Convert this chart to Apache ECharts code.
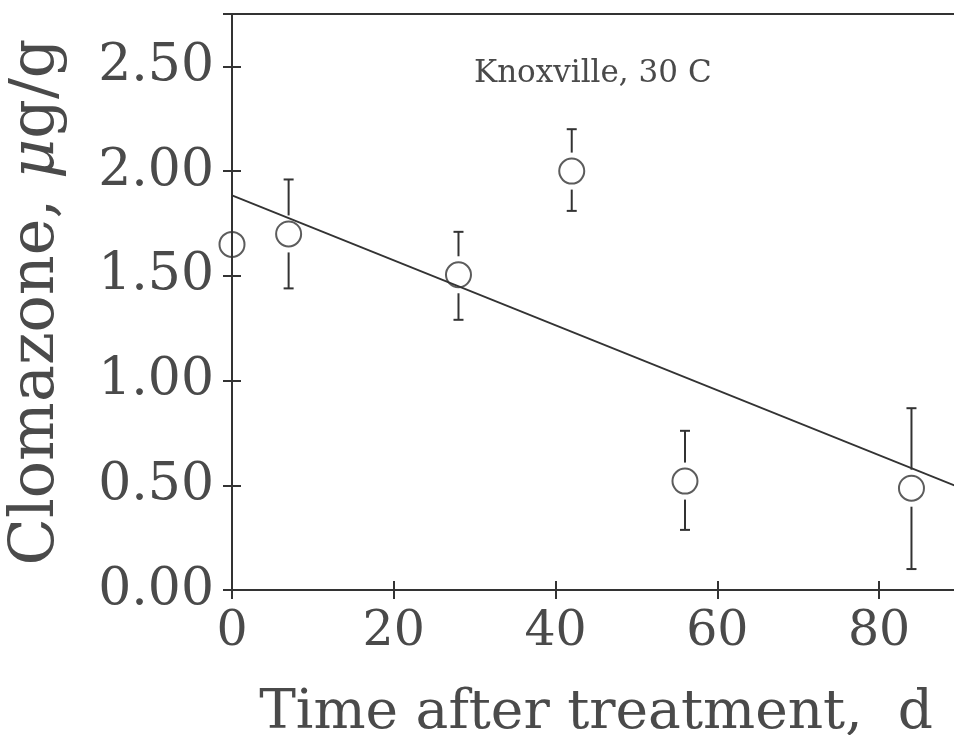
<!DOCTYPE html>
<html>
<head>
<meta charset="utf-8">
<script src="https://cdn.jsdelivr.net/npm/echarts@6/dist/echarts.min.js"></script>
<style>
html,body{margin:0;padding:0;background:#fff;}
#chart{width:954px;height:735px;}
</style>
</head>
<body>
<div id="chart"></div>
<script>
// Data
const days = [0, 7, 28, 42, 56, 84];
const meanValues = [1.65, 1.70, 1.505, 2.00, 0.52, 0.486];
const upperValues = [1.65, 1.96, 1.71, 2.20, 0.76, 0.868];
const lowerValues = [1.65, 1.44, 1.29, 1.81, 0.287, 0.10];
const fitX = [0, 90];
const fitY = [1.884, 0.489];
const xTicks = [0, 20, 40, 60, 80];
const yTicks = [0.00, 0.50, 1.00, 1.50, 2.00, 2.50];
const annotation = 'Knoxville, 30 C';

const FONT = 'DejaVu Serif';
const INK = '#333';
const TXT = '#4a4a4a';

const points = days.map((d, i) => [d, meanValues[i]]);
const errData = days.map((d, i) => [d, meanValues[i], lowerValues[i], upperValues[i]]);
const fitData = fitX.map((x, i) => [x, fitY[i]]);

const chart = echarts.init(document.getElementById('chart'));
const R = 12.5, GAP = 6, CAP = 5;

const baseX = {
  type: 'value', min: 0, max: 90, interval: 20,
  splitLine: {show: false}
};
const baseY = {
  type: 'value', min: 0, max: 2.75, interval: 0.5,
  splitLine: {show: false}
};

chart.setOption({
  backgroundColor: '#fff',
  animation: false,
  grid: {left: 232, top: 14, right: -6, bottom: 145, show: true,
         containLabel: false, outerBoundsMode: 'none',
         borderColor: INK, borderWidth: 2, backgroundColor: 'transparent'},
  xAxis: [
    Object.assign({}, baseX, {
      position: 'bottom',
      name: 'Time after treatment,  d',
      nameLocation: 'middle', nameGap: 96,
      nameTextStyle: {fontFamily: FONT, fontSize: 55, color: TXT},
      axisLine: {show: true, lineStyle: {color: INK, width: 2}},
      axisTick: {show: true, inside: false, length: 9, lineStyle: {color: INK, width: 2}},
      axisLabel: {fontFamily: FONT, fontSize: 49, color: TXT, margin: 18,
                  formatter: v => xTicks.includes(v) ? String(v) : ''}
    }),
    Object.assign({}, baseX, {
      position: 'bottom',
      axisLine: {show: false},
      axisTick: {show: true, inside: true, length: 9, lineStyle: {color: INK, width: 2}},
      axisLabel: {show: false}
    })
  ],
  yAxis: [
    Object.assign({}, baseY, {
      position: 'left',
      name: '{a|Clomazone, }{b|μ}{a|g/g}',
      nameLocation: 'middle', nameGap: 164, nameRotate: 90,
      nameTextStyle: {
        rich: {
          a: {fontFamily: FONT, fontSize: 62, color: TXT},
          b: {fontFamily: FONT, fontSize: 62, color: TXT, fontStyle: 'italic'}
        }
      },
      axisLine: {show: true, lineStyle: {color: INK, width: 2}},
      axisTick: {show: true, inside: false, length: 9, lineStyle: {color: INK, width: 2}},
      axisLabel: {fontFamily: FONT, fontSize: 52, color: TXT, margin: 18,
                  formatter: v => yTicks.some(t => Math.abs(t - v) < 1e-9) ? v.toFixed(2) : ''}
    }),
    Object.assign({}, baseY, {
      position: 'left',
      axisLine: {show: false},
      axisTick: {show: true, inside: true, length: 9, lineStyle: {color: INK, width: 2}},
      axisLabel: {show: false}
    })
  ],
  graphic: [{
    type: 'text', left: 474, top: 58,
    style: {text: annotation, font: '31px "' + FONT + '"', fill: TXT}
  }],
  series: [
    {
      type: 'line', data: fitData, showSymbol: false, symbol: 'none',
      lineStyle: {color: INK, width: 1.8}, z: 2, silent: true
    },
    {
      type: 'custom', data: errData, z: 3, silent: true,
      renderItem: function (params, api) {
        const c = api.coord([api.value(0), api.value(1)]);
        const lo = api.coord([api.value(0), api.value(2)]);
        const hi = api.coord([api.value(0), api.value(3)]);
        const children = [];
        const style = {stroke: INK, lineWidth: 2};
        if (c[1] - hi[1] > R + GAP + 2) {
          children.push({type: 'line', shape: {x1: c[0], y1: hi[1], x2: c[0], y2: c[1] - R - GAP}, style: style});
          children.push({type: 'line', shape: {x1: c[0] - CAP, y1: hi[1], x2: c[0] + CAP, y2: hi[1]}, style: style});
        }
        if (lo[1] - c[1] > R + GAP + 2) {
          children.push({type: 'line', shape: {x1: c[0], y1: c[1] + R + GAP, x2: c[0], y2: lo[1]}, style: style});
          children.push({type: 'line', shape: {x1: c[0] - CAP, y1: lo[1], x2: c[0] + CAP, y2: lo[1]}, style: style});
        }
        return {type: 'group', children: children};
      }
    },
    {
      type: 'scatter', data: points, symbol: 'circle', symbolSize: 2 * R, z: 4,
      itemStyle: {color: 'transparent', borderColor: INK, borderWidth: 2}
    }
  ]
});
</script>
</body>
</html>
